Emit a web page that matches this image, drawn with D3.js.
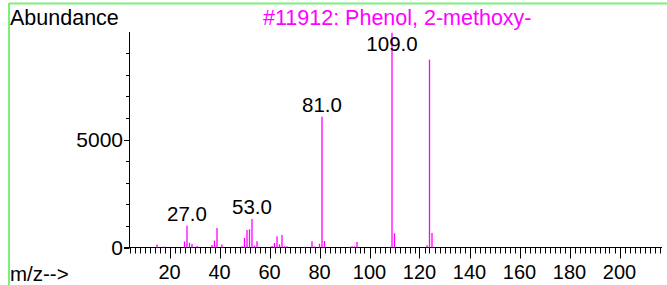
<!DOCTYPE html>
<html>
<head>
<meta charset="utf-8">
<script src="https://cdn.jsdelivr.net/npm/d3@7"></script>
<style>
	body { margin: 0; background: #fff; }
	svg { display: block; font-family: 'Liberation Sans', Arial, sans-serif; }
</style>
</head>
<body>
<div id="chart"></div>
<script>
	// spectrum data
	var title = '#11912: Phenol, 2-methoxy-';
	var mzValues = [15, 18, 26, 27, 28, 29, 31, 37, 38, 39, 41, 49, 50, 51, 52, 53, 54, 55, 61, 62, 63, 64, 65, 66, 67, 74, 77, 78, 80, 81, 82, 92, 93, 94, 95, 108, 109, 110, 123, 124, 125, 126];
	var abundances = [140, 45, 280, 1010, 220, 160, 70, 110, 320, 900, 140, 55, 440, 810, 845, 1320, 85, 290, 70, 210, 520, 150, 580, 60, 60, 35, 290, 55, 175, 6050, 300, 30, 55, 55, 255, 30, 9950, 660, 100, 8700, 670, 30];
	var labelledPeaks = [27, 53, 81, 109];
	var yTickValues = [0, 1000, 2000, 3000, 4000, 5000, 6000, 7000, 8000, 9000];
	var yTickLabels = [0, 5000];

	var width = 667, height = 285;
	var magenta = '#ff00ff';

	var svg = d3.select('#chart').append('svg')
		.attr('width', width)
		.attr('height', height);

	// green frame lines (top and left)
	svg.append('line').attr('x1', 9).attr('x2', width).attr('y1', 3.5).attr('y2', 3.5)
		.attr('stroke', '#7cf07c').attr('stroke-width', 2);
	svg.append('line').attr('x1', 9).attr('x2', 9).attr('y1', 3).attr('y2', height)
		.attr('stroke', '#7cf07c').attr('stroke-width', 2);

	var x = d3.scaleLinear().domain([0, 220]).range([119.5, 669.5]);
	var y = d3.scaleLinear().domain([0, 9980]).range([247.5, 32]);

	var peaks = mzValues.map(function(mz, i) { return { mz: mz, value: abundances[i] }; });

	// x axis
	var xAxisLayer = svg.append('g');
	xAxisLayer.append('line')
		.attr('x1', 124).attr('x2', x(217))
		.attr('y1', y(0)).attr('y2', y(0))
		.attr('stroke', '#000');
	xAxisLayer.selectAll('line.tick')
		.data(d3.range(4, 217, 2))
		.enter()
		.append('line')
		.attr('class', 'tick')
		.attr('x1', function(d) { return Math.round(x(d)) + 0.5; })
		.attr('x2', function(d) { return Math.round(x(d)) + 0.5; })
		.attr('y1', y(0))
		.attr('y2', function(d) { return y(0) + (d % 20 === 0 ? 11 : 6); })
		.attr('stroke', '#000');
	xAxisLayer.selectAll('text')
		.data(d3.range(20, 217, 20))
		.enter()
		.append('text')
		.attr('x', function(d) { return x(d); })
		.attr('y', 279)
		.attr('text-anchor', 'middle')
		.attr('font-size', 20)
		.text(function(d) { return d; });

	// y axis
	var yAxisLayer = svg.append('g');
	yAxisLayer.append('line')
		.attr('x1', 129.5).attr('x2', 129.5)
		.attr('y1', y.range()[1]).attr('y2', y(0))
		.attr('stroke', '#000');
	yAxisLayer.selectAll('line.tick')
		.data(yTickValues)
		.enter()
		.append('line')
		.attr('class', 'tick')
		.attr('x1', function(d) { return yTickLabels.indexOf(d) >= 0 ? 124 : 126; })
		.attr('x2', 129.5)
		.attr('y1', function(d) { return Math.round(y(d)) + 0.5; })
		.attr('y2', function(d) { return Math.round(y(d)) + 0.5; })
		.attr('stroke', '#000');
	yAxisLayer.selectAll('text')
		.data(yTickLabels)
		.enter()
		.append('text')
		.attr('x', 123)
		.attr('y', function(d) { return y(d); })
		.attr('dy', '0.35em')
		.attr('text-anchor', 'end')
		.attr('font-size', 21)
		.text(function(d) { return d; });

	// peaks
	svg.append('g').selectAll('line')
		.data(peaks)
		.enter()
		.append('line')
		.attr('x1', function(d) { return x(d.mz); })
		.attr('x2', function(d) { return x(d.mz); })
		.attr('y1', y(0))
		.attr('y2', function(d) { return y(d.value); })
		.attr('stroke', magenta)
		.attr('stroke-width', 1.3);

	// peak labels
	svg.append('g').selectAll('text')
		.data(peaks.filter(function(d) { return labelledPeaks.indexOf(d.mz) >= 0; }))
		.enter()
		.append('text')
		.attr('x', function(d) { return x(d.mz); })
		.attr('y', function(d) { return Math.max(51, y(d.value) - 5); })
		.attr('text-anchor', 'middle')
		.attr('font-size', 20.5)
		.text(function(d) { return d.mz.toFixed(1); });

	// titles
	svg.append('text').attr('x', 10).attr('y', 25).attr('font-size', 21.5).text('Abundance');
	svg.append('text').attr('x', 10).attr('y', 281).attr('font-size', 20.5).text('m/z-->');
	svg.append('text').attr('x', 263).attr('y', 25).attr('font-size', 21.5)
		.attr('fill', magenta).text(title);
</script>
</body>
</html>
